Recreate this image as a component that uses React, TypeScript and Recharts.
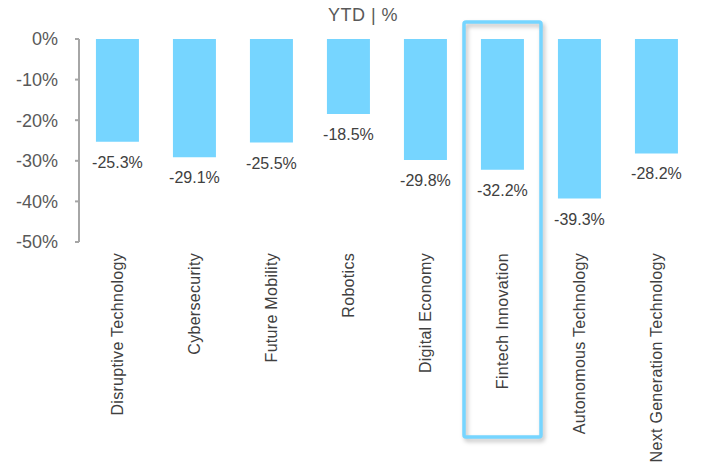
import { Bar, BarChart, ReferenceArea, XAxis, YAxis } from "recharts";

const categories = [
  "Disruptive Technology",
  "Cybersecurity",
  "Future Mobility",
  "Robotics",
  "Digital Economy",
  "Fintech Innovation",
  "Autonomous Technology",
  "Next Generation Technology",
];
const ytdValues = [-25.3, -29.1, -25.5, -18.5, -29.8, -32.2, -39.3, -28.2];
const yTicks = [-50, -40, -30, -20, -10, 0];
const highlighted = "Fintech Innovation";

const FONT = "'Liberation Sans', Arial, sans-serif";
const BAR_COLOR = "#76D5FF";
const AXIS_COLOR = "#A6A6A6";

const data = categories.map((name, i) => ({ name, ytd: ytdValues[i] }));

const CategoryTick = (props: any) => {
  const { x, y, payload } = props;
  return (
    <text
      x={x}
      y={y}
      transform={`rotate(-90, ${x}, ${y})`}
      textAnchor="end"
      dominantBaseline="central"
      fontSize={16}
      letterSpacing={0.3}
      fontFamily={FONT}
      fill="#404040"
    >
      {payload.value}
    </text>
  );
};

// small marks on the zero line, at the edges between categories
const EdgeTick = (props: any) => {
  const { x, y, payload, index } = props;
  const half = payload.offset || 0;
  const last = index === categories.length - 1;
  return (
    <g>
      <line x1={x - half} x2={x - half} y1={y} y2={y + 5} stroke={AXIS_COLOR} strokeWidth={2} />
      {last && <line x1={x + half} x2={x + half} y1={y} y2={y + 5} stroke={AXIS_COLOR} strokeWidth={2} />}
    </g>
  );
};

const ValueLabel = (props: any) => {
  const { x, y, width, height, value } = props;
  const bottom = Math.max(y, y + height);
  return (
    <text
      x={x + width / 2}
      y={bottom + 26}
      textAnchor="middle"
      fontSize={16}
      fontFamily={FONT}
      fill="#404040"
    >
      {`${value.toFixed(1)}%`}
    </text>
  );
};

const App = () => {
  return (
    <div style={{ position: "absolute", left: 0, top: 0, width: 701, height: 466, background: "#fff" }}>
      <div
        style={{
          position: "absolute",
          left: 263,
          top: 5,
          width: 200,
          textAlign: "center",
          fontFamily: FONT,
          fontSize: 18,
          letterSpacing: 0.5,
          color: "#595959",
        }}
      >
        YTD | %
      </div>
      <BarChart
        width={701}
        height={466}
        data={data}
        margin={{ top: 39, right: 6, bottom: 0, left: 0 }}
        barCategoryGap="22%"
      >
        <XAxis
          xAxisId="cat"
          dataKey="name"
          orientation="bottom"
          height={224}
          axisLine={false}
          tickLine={false}
          tickSize={0}
          tickMargin={11}
          interval={0}
          tick={<CategoryTick />}
        />
        <XAxis
          xAxisId="top"
          dataKey="name"
          orientation="top"
          height={0}
          interval={0}
          tickSize={0}
          tickMargin={0}
          tickLine={false}
          tick={<EdgeTick />}
          axisLine={{ stroke: AXIS_COLOR, strokeWidth: 2 }}
        />
        <YAxis
          width={79}
          domain={[-50, 0]}
          ticks={yTicks}
          allowDataOverflow
          tickFormatter={(v: number) => `${v}%`}
          tick={{ fontSize: 18, fontFamily: FONT, fill: "#595959" }}
          tickSize={4}
          tickMargin={17}
          tickLine={{ stroke: AXIS_COLOR, strokeWidth: 2 }}
          axisLine={{ stroke: AXIS_COLOR, strokeWidth: 2 }}
        />
        <Bar
          xAxisId="cat"
          dataKey="ytd"
          fill={BAR_COLOR}
          isAnimationActive={false}
          label={<ValueLabel />}
        />
        <ReferenceArea
          xAxisId="cat"
          x1={highlighted}
          x2={highlighted}
          y1={4.2}
          y2={-98}
          ifOverflow="visible"
          fill="none"
          stroke={BAR_COLOR}
          strokeWidth={3.5}
          radius={2}
          style={{ filter: "drop-shadow(2px 3px 2px rgba(0,0,0,0.25))" }}
        />
      </BarChart>
    </div>
  );
};

export default App;
